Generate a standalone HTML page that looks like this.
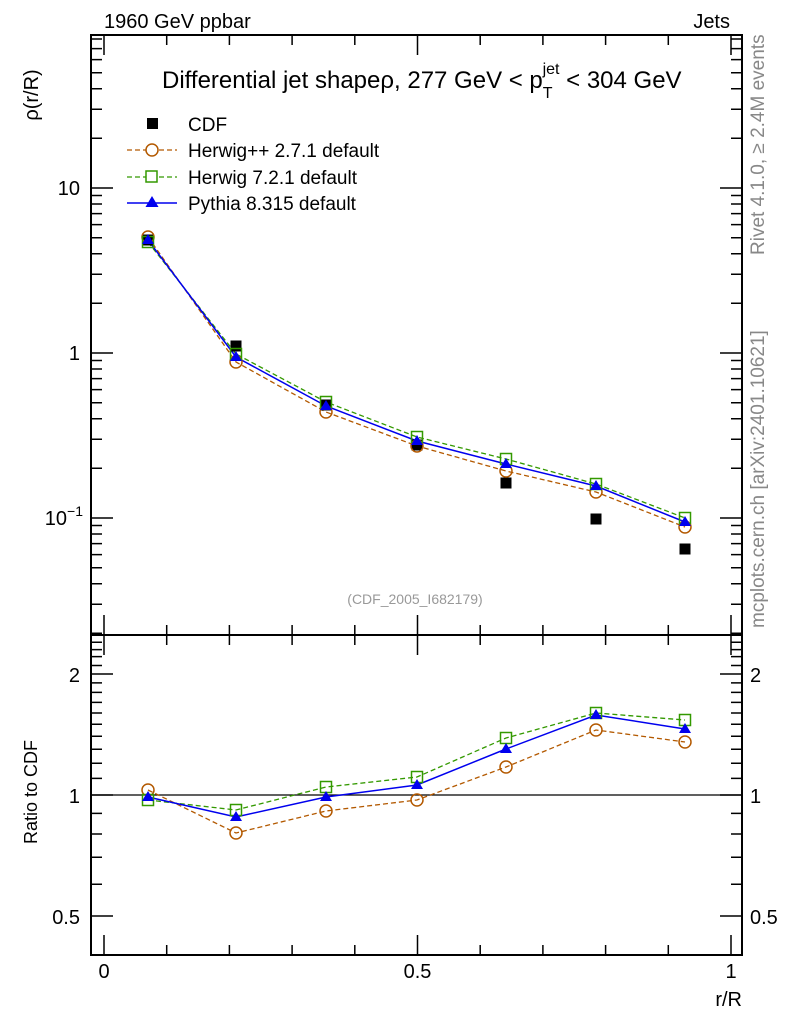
<!DOCTYPE html>
<html><head><meta charset="utf-8"><style>
html,body{margin:0;padding:0;background:#fff}
svg{display:block}
text{font-family:"Liberation Sans",Arial,sans-serif}
</style></head><body>
<svg width="786" height="1024" viewBox="0 0 786 1024" xmlns="http://www.w3.org/2000/svg">
<rect width="786" height="1024" fill="#fff"/>
<g fill="none" stroke="#000" stroke-width="2">
<rect x="91" y="35" width="651" height="600"/>
<rect x="91" y="635" width="651" height="320"/>
</g>
<g stroke="#000" stroke-width="1.5" fill="none">
<path d="M91 188h22M91 353h22M91 518h22M742 188h-22M742 353h-22M742 518h-22"/>
<path d="M91 633.3h11M91 604.3h11M91 583.7h11M91 567.7h11M91 554.6h11M91 543.6h11M91 534h11M91 525.5h11
M91 468.3h11M91 439.3h11M91 418.7h11M91 402.7h11M91 389.6h11M91 378.6h11M91 369h11M91 360.5h11
M91 303.3h11M91 274.3h11M91 253.7h11M91 237.7h11M91 224.6h11M91 213.6h11M91 204h11M91 195.5h11
M91 138.3h11M91 109.3h11M91 88.7h11M91 72.7h11M91 59.6h11M91 48.6h11M91 39h11"/>
<path d="M742 633.3h-11M742 604.3h-11M742 583.7h-11M742 567.7h-11M742 554.6h-11M742 543.6h-11M742 534h-11M742 525.5h-11
M742 468.3h-11M742 439.3h-11M742 418.7h-11M742 402.7h-11M742 389.6h-11M742 378.6h-11M742 369h-11M742 360.5h-11
M742 303.3h-11M742 274.3h-11M742 253.7h-11M742 237.7h-11M742 224.6h-11M742 213.6h-11M742 204h-11M742 195.5h-11
M742 138.3h-11M742 109.3h-11M742 88.7h-11M742 72.7h-11M742 59.6h-11M742 48.6h-11M742 39h-11"/>
<path d="M104 35v20M417.5 35v20M731 35v20M104 635v-20M417.5 635v-20M731 635v-20"/>
<path d="M166.7 35v10M229.4 35v10M292.1 35v10M354.8 35v10M480.2 35v10M542.9 35v10M605.6 35v10M668.3 35v10
M166.7 635v-10M229.4 635v-10M292.1 635v-10M354.8 635v-10M480.2 635v-10M542.9 635v-10M605.6 635v-10M668.3 635v-10"/>
<path d="M104 635v20M417.5 635v20M731 635v20M104 955v-20M417.5 955v-20M731 955v-20"/>
<path d="M166.7 635v10M229.4 635v10M292.1 635v10M354.8 635v10M480.2 635v10M542.9 635v10M605.6 635v10M668.3 635v10
M166.7 955v-10M229.4 955v-10M292.1 955v-10M354.8 955v-10M480.2 955v-10M542.9 955v-10M605.6 955v-10M668.3 955v-10"/>
<path d="M91 674h22M91 795h22M91 916h22M742 674h-22M742 795h-22M742 916h-22"/>
<path d="M91 884.2h11M91 857.3h11M91 834h11M91 813.4h11M91 778.4h11M91 763.2h11M91 749.2h11M91 736.3h11M91 724.2h11M91 713h11M91 702.4h11M91 692.4h11M91 682.9h11M91 665.5h11M91 656.6h11M91 649.6h11M91 642.2h11
M742 884.2h-11M742 857.3h-11M742 834h-11M742 813.4h-11M742 778.4h-11M742 763.2h-11M742 749.2h-11M742 736.3h-11M742 724.2h-11M742 713h-11M742 702.4h-11M742 692.4h-11M742 682.9h-11M742 665.5h-11M742 656.6h-11M742 649.6h-11M742 642.2h-11"/>
</g>
<line x1="91" y1="795" x2="742" y2="795" stroke="#000" stroke-width="1.2"/>
<g font-size="20" fill="#000">
<text x="104" y="28">1960 GeV ppbar</text>
<text x="730" y="28" text-anchor="end">Jets</text>
<text x="80" y="195" text-anchor="end">10</text>
<text x="80" y="360" text-anchor="end">1</text>
<text x="83" y="525" text-anchor="end">10<tspan font-size="14" dy="-9">−1</tspan></text>
<text x="80" y="682" text-anchor="end">2</text>
<text x="80" y="803" text-anchor="end">1</text>
<text x="80" y="924" text-anchor="end">0.5</text>
<text x="750" y="682">2</text>
<text x="750" y="803">1</text>
<text x="750" y="924">0.5</text>
<text x="104" y="978" text-anchor="middle">0</text>
<text x="417.5" y="978" text-anchor="middle">0.5</text>
<text x="731" y="978" text-anchor="middle">1</text>
<text x="742" y="1006" text-anchor="end">r/R</text>
<text transform="translate(38,95) rotate(-90)" text-anchor="middle">ρ(r/R)</text>
</g>
<text x="162" y="88" font-size="24">Differential jet shapeρ, 277 GeV &lt; p<tspan font-size="16" dy="10">T</tspan><tspan font-size="16" dx="-10" dy="-24">jet</tspan><tspan dy="14"> &lt; 304 GeV</tspan></text>
<text transform="translate(37,792) rotate(-90)" text-anchor="middle" font-size="18">Ratio to CDF</text>
<text x="415" y="604" text-anchor="middle" font-size="14" fill="#999">(CDF_2005_I682179)</text>
<g font-size="19" fill="#888">
<text transform="translate(764,255) rotate(-90)">Rivet 4.1.0, ≥ 2.4M events</text>
<text transform="translate(764,628) rotate(-90)">mcplots.cern.ch [arXiv:2401.10621]</text>
</g>
<g font-size="19" fill="#000">
<rect x="147" y="118" width="11" height="11"/>
<text x="188" y="131">CDF</text>
<line x1="127" y1="150" x2="177" y2="150" stroke="#b35900" stroke-width="1.3" stroke-dasharray="5,3"/>
<circle cx="152" cy="150" r="6" fill="#fff" stroke="#b35900" stroke-width="1.5"/>
<text x="188" y="157">Herwig++ 2.7.1 default</text>
<line x1="127" y1="177" x2="177" y2="177" stroke="#339900" stroke-width="1.3" stroke-dasharray="5,3"/>
<rect x="146" y="171" width="11" height="11" fill="#fff" stroke="#339900" stroke-width="1.5"/>
<text x="188" y="184">Herwig 7.2.1 default</text>
<line x1="127" y1="203" x2="177" y2="203" stroke="#0000ee" stroke-width="1.5"/>
<path d="M152 196l6.5 11h-13z" fill="#0000ee"/>
<text x="188" y="210">Pythia 8.315 default</text>
</g>
<g>
<path d="M148 237L236 362L326 412L417 446L506 471L596 492L685 527" fill="none" stroke="#b35900" stroke-width="1.3" stroke-dasharray="5,3"/>
<path d="M148 242L236 354L326 402L417 437L506 459L596 484L685 518" fill="none" stroke="#339900" stroke-width="1.3" stroke-dasharray="5,3"/>
<path d="M148 240L236 357L326 406L417 441L506 464L596 486L685 522" fill="none" stroke="#0000ee" stroke-width="1.5"/>
<g fill="#000">
<rect x="142.5" y="234.5" width="11" height="11"/><rect x="230.5" y="340.5" width="11" height="11"/><rect x="320.5" y="399.5" width="11" height="11"/><rect x="411.5" y="439.5" width="11" height="11"/><rect x="500.5" y="477.5" width="11" height="11"/><rect x="590.5" y="513.5" width="11" height="11"/><rect x="679.5" y="543.5" width="11" height="11"/>
</g>
<g fill="none" stroke="#b35900" stroke-width="1.5">
<circle cx="148" cy="237" r="6"/><circle cx="236" cy="362" r="6"/><circle cx="326" cy="412" r="6"/><circle cx="417" cy="446" r="6"/><circle cx="506" cy="471" r="6"/><circle cx="596" cy="492" r="6"/><circle cx="685" cy="527" r="6"/>
</g>
<g fill="none" stroke="#339900" stroke-width="1.5">
<rect x="142.5" y="236.5" width="11" height="11"/><rect x="230.5" y="348.5" width="11" height="11"/><rect x="320.5" y="396.5" width="11" height="11"/><rect x="411.5" y="431.5" width="11" height="11"/><rect x="500.5" y="453.5" width="11" height="11"/><rect x="590.5" y="478.5" width="11" height="11"/><rect x="679.5" y="512.5" width="11" height="11"/>
</g>
<g fill="#0000ee">
<path d="M148 234l6 10h-12z"/><path d="M236 351l6 10h-12z"/><path d="M326 400l6 10h-12z"/><path d="M417 435l6 10h-12z"/><path d="M506 458l6 10h-12z"/><path d="M596 480l6 10h-12z"/><path d="M685 516l6 10h-12z"/>
</g>
</g>
<g>
<path d="M148 790L236 833L326 811L417 800L506 767L596 730L685 742" fill="none" stroke="#b35900" stroke-width="1.3" stroke-dasharray="5,3"/>
<path d="M148 800L236 810L326 787L417 777L506 738L596 713L685 720" fill="none" stroke="#339900" stroke-width="1.3" stroke-dasharray="5,3"/>
<path d="M148 797L236 817L326 797L417 785L506 749L596 715L685 729" fill="none" stroke="#0000ee" stroke-width="1.5"/>
<g fill="none" stroke="#b35900" stroke-width="1.5">
<circle cx="148" cy="790" r="6"/><circle cx="236" cy="833" r="6"/><circle cx="326" cy="811" r="6"/><circle cx="417" cy="800" r="6"/><circle cx="506" cy="767" r="6"/><circle cx="596" cy="730" r="6"/><circle cx="685" cy="742" r="6"/>
</g>
<g fill="none" stroke="#339900" stroke-width="1.5">
<rect x="142.5" y="794.5" width="11" height="11"/><rect x="230.5" y="804.5" width="11" height="11"/><rect x="320.5" y="781.5" width="11" height="11"/><rect x="411.5" y="771.5" width="11" height="11"/><rect x="500.5" y="732.5" width="11" height="11"/><rect x="590.5" y="707.5" width="11" height="11"/><rect x="679.5" y="714.5" width="11" height="11"/>
</g>
<g fill="#0000ee">
<path d="M148 791l6 10h-12z"/><path d="M236 811l6 10h-12z"/><path d="M326 791l6 10h-12z"/><path d="M417 779l6 10h-12z"/><path d="M506 743l6 10h-12z"/><path d="M596 709l6 10h-12z"/><path d="M685 723l6 10h-12z"/>
</g>
</g>
</svg>
</body></html>
